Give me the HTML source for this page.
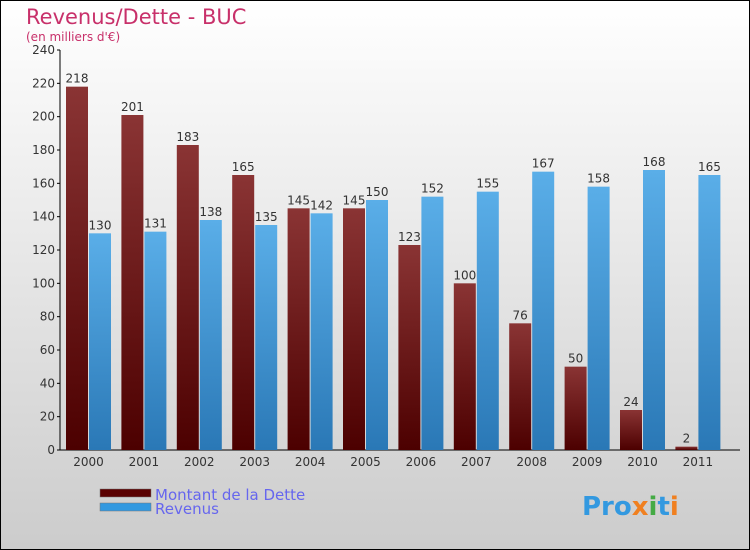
<!DOCTYPE html>
<html><head><meta charset="utf-8"><style>
body{margin:0}
svg{display:block;font-family:"DejaVu Sans","Liberation Sans",sans-serif}
</style></head><body>
<svg id="c" width="750" height="550">
<defs>
<linearGradient id="bg" x1="0" y1="0" x2="0" y2="1"><stop offset="0" stop-color="#ffffff"/><stop offset="1" stop-color="#cccccc"/></linearGradient>
<linearGradient id="gd" x1="0" y1="0" x2="0" y2="1"><stop offset="0" stop-color="#8a3434"/><stop offset="1" stop-color="#4c0000"/></linearGradient>
<linearGradient id="gr" x1="0" y1="0" x2="0" y2="1"><stop offset="0" stop-color="#5aaee8"/><stop offset="1" stop-color="#2a78b6"/></linearGradient>
</defs>
<rect x="0.5" y="0.5" width="749" height="549" fill="url(#bg)" stroke="#000"/>
<text x="26" y="24" font-size="21" fill="#c8306a">Revenus/Dette - BUC</text>
<text x="26" y="41" font-size="12" fill="#c8306a">(en milliers d'€)</text>
<g id="plot"></g>
<rect x="100" y="489" width="51" height="8" fill="#5a0000" stroke="#777" stroke-width="0.5"/>
<rect x="100" y="503" width="51" height="8" fill="#3399e0" stroke="#777" stroke-width="0.5"/>
<text x="155" y="500" font-size="15" fill="#6666ee">Montant de la Dette</text>
<text x="155" y="514" font-size="15" fill="#6666ee">Revenus</text>
<text x="582" y="515" font-size="26" font-weight="bold" fill="#3399e0">Pro<tspan fill="#f08020">x</tspan><tspan fill="#44aa44">i</tspan>t<tspan fill="#f08020">i</tspan></text>
</svg>
<script>
const years=["2000","2001","2002","2003","2004","2005","2006","2007","2008","2009","2010","2011"];
const debt=[218,201,183,165,145,145,123,100,76,50,24,2];
const revenue=[130,131,138,135,142,150,152,155,167,158,168,165];
const yTicks=[0,20,40,60,80,100,120,140,160,180,200,220,240];
const NS="http://www.w3.org/2000/svg";
const g=document.getElementById("plot");
const y0=450,ppu=400/240,x0=66,pitch=55.4,bw=22;
const Y=v=>y0-v*ppu;
function el(t,a){const e=document.createElementNS(NS,t);for(const k in a)e.setAttribute(k,a[k]);g.appendChild(e);return e;}
let ax=el("line",{x1:60,y1:50,x2:60,y2:450,stroke:"#000"});


let bx=el("line",{x1:60,y1:450,x2:740,y2:450,stroke:"#000"});


yTicks.forEach(v=>{
 let t=el("line",{x1:57,y1:Y(v),x2:60,y2:Y(v),stroke:"#000"});
 
 
 let l=el("text",{x:55,y:Y(v)+4,"font-size":12,"text-anchor":"end",fill:"#333"});
 l.textContent=v;
 
 
});
years.forEach((yr,i)=>{
 const xd=x0+i*pitch,xr=xd+bw+1;
 let b1=el("rect",{x:xd,y:Y(debt[i]),width:bw,height:debt[i]*ppu,fill:"url(#gd)"});
 
 
 let b2=el("rect",{x:xr,y:Y(revenue[i]),width:bw,height:revenue[i]*ppu,fill:"url(#gr)"});
 
 
 let t1=el("text",{x:xd+bw/2,y:Y(debt[i])-4,"font-size":12,"text-anchor":"middle",fill:"#333"});
 t1.textContent=debt[i];
 
 
 let t2=el("text",{x:xr+bw/2,y:Y(revenue[i])-4,"font-size":12,"text-anchor":"middle",fill:"#333"});
 t2.textContent=revenue[i];
 
 
 let xl=el("text",{x:xd+bw+0.5,y:466,"font-size":12,"text-anchor":"middle",fill:"#333"});
 xl.textContent=yr;
 
 
});
</script>
</body></html>
